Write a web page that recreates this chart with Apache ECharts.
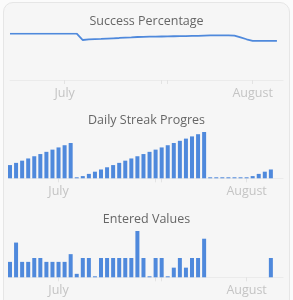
<!DOCTYPE html>
<html>
<head>
<meta charset="utf-8">
<script src="https://cdn.jsdelivr.net/npm/echarts@6/dist/echarts.min.js"></script>
<style>
  html, body { margin: 0; padding: 0; background: #fbfbfb; width: 293px; height: 300px; overflow: hidden; }
  #card { position: absolute; left: 3px; top: 2px; width: 285px; height: 320px; background: #f6f6f6; border: 1px solid #e6e6e6; border-radius: 10px; }
  #chart { position: absolute; left: 0; top: 0; width: 293px; height: 300px; }
</style>
</head>
<body>
<div id="card"></div>
<div id="chart"></div>
<script>
// ---- data ----
const titles = ['Success Percentage', 'Daily Streak Progres', 'Entered Values'];
const monthNames = ['January','February','March','April','May','June','July','August','September','October','November','December'];
const monthTickDates = ['2024-07-01', '2024-08-01'];
const extraTickDates = ['2024-07-17', '2024-07-18'];

const successStart = '2024-06-22';
const successPct = [
  100, 100, 100, 100, 100, 100, 100, 100, 100, 100, 100, 100,
  94.1, 94.6, 94.9, 95.1, 95.4, 95.7, 96.0, 96.4, 96.6, 96.9,
  97.1, 97.2, 97.3, 97.4, 97.5, 97.6, 97.7, 97.8, 97.9, 98.0,
  98.2, 98.4, 98.5, 98.5, 98.5, 98.2, 96.5, 94.8, 93.2, 93.2,
  93.2, 93.2, 93.2
];

const streakStart = '2024-06-23';
const streakValues = [
  6, 7, 8, 9, 10, 11, 12, 13, 14, 15, 16,
  0,
  1, 2, 3, 4, 5, 6, 7, 8, 9, 10, 11, 12, 13, 14, 15, 16, 17, 18, 19, 20, 21,
  0, 0, 0, 0, 0, 0, 0,
  1, 2, 3, 4
];

const enteredStart = '2024-06-23';
const enteredValues = [
  4, 9, 4, 4, 5, 5, 4, 4, 4, 4, 6, 0.9, 5, 5, 0, 5, 5, 5, 5, 5, 5, 12,
  5, 0, 5, 5, 0, 2.5, 5, 2.5, 5, 5, 10,
  null, null, null, null, null, null, null, null, null, null,
  5
];

const axisRanges = [
  ['2024-06-22', '2024-08-06'],
  ['2024-06-23', '2024-08-07'],
  ['2024-06-23', '2024-08-07']
];

// ---- helpers ----
function toTime(s) {
  const p = s.split('-').map(Number);
  return new Date(p[0], p[1] - 1, p[2]).getTime();
}
const DAY = 86400000;
function pairs(start, values) {
  const t0 = toTime(start);
  return values.map((v, i) => [t0 + i * DAY, v]);
}

const BLUE = '#4f89dc';
const gridTops = [33.7, 132, 231];
const gridH = 46.3;
const titleTops = [14.5, 113.5, 212.5];

const monthTicks = monthTickDates.map(toTime);
const allTicks = monthTickDates.concat(extraTickDates).map(toTime);

const chart = echarts.init(document.getElementById('chart'), null, { renderer: 'canvas' });

const option = {
  animation: false,
  title: titles.map((t, i) => ({
    text: t,
    left: 'center',
    top: titleTops[i],
    padding: 0,
    textStyle: { fontFamily: 'Open Sans', fontSize: 12.5, fontWeight: 'normal', color: '#666666' }
  })),
  grid: gridTops.map(t => ({ left: 10, right: 10, top: t, height: gridH })),
  xAxis: axisRanges.map((r, i) => ({
    type: 'value',
    gridIndex: i,
    min: toTime(r[0]),
    max: toTime(r[1]),
    axisLine: { show: true, lineStyle: { color: '#ebebeb', width: 1 } },
    axisTick: { show: true, length: 4, lineStyle: { color: '#e3e3e3' }, customValues: allTicks },
    axisLabel: {
      customValues: monthTicks,
      margin: 7,
      fontFamily: 'Open Sans',
      fontSize: 12.5,
      color: '#c4c4c4',
      formatter: v => monthNames[new Date(v).getMonth()]
    },
    splitLine: { show: false }
  })),
  yAxis: [
    { type: 'value', gridIndex: 0, min: 56.7, max: 100, show: false },
    { type: 'value', gridIndex: 1, min: 0, max: Math.max(...streakValues), show: false },
    { type: 'value', gridIndex: 2, min: 0, max: Math.max(...enteredValues.filter(v => v != null)), show: false }
  ],
  series: [
    {
      type: 'line', xAxisIndex: 0, yAxisIndex: 0,
      data: pairs(successStart, successPct),
      showSymbol: false, symbol: 'none',
      lineStyle: { color: BLUE, width: 1.8 }
    },
    {
      type: 'bar', xAxisIndex: 1, yAxisIndex: 1,
      data: pairs(streakStart, streakValues),
      barWidth: 4, barMinHeight: 1,
      itemStyle: { color: BLUE }
    },
    {
      type: 'bar', xAxisIndex: 2, yAxisIndex: 2,
      data: pairs(enteredStart, enteredValues),
      barWidth: 4, barMinHeight: 1,
      itemStyle: { color: BLUE }
    }
  ]
};
chart.setOption(option);
</script>
</body>
</html>
